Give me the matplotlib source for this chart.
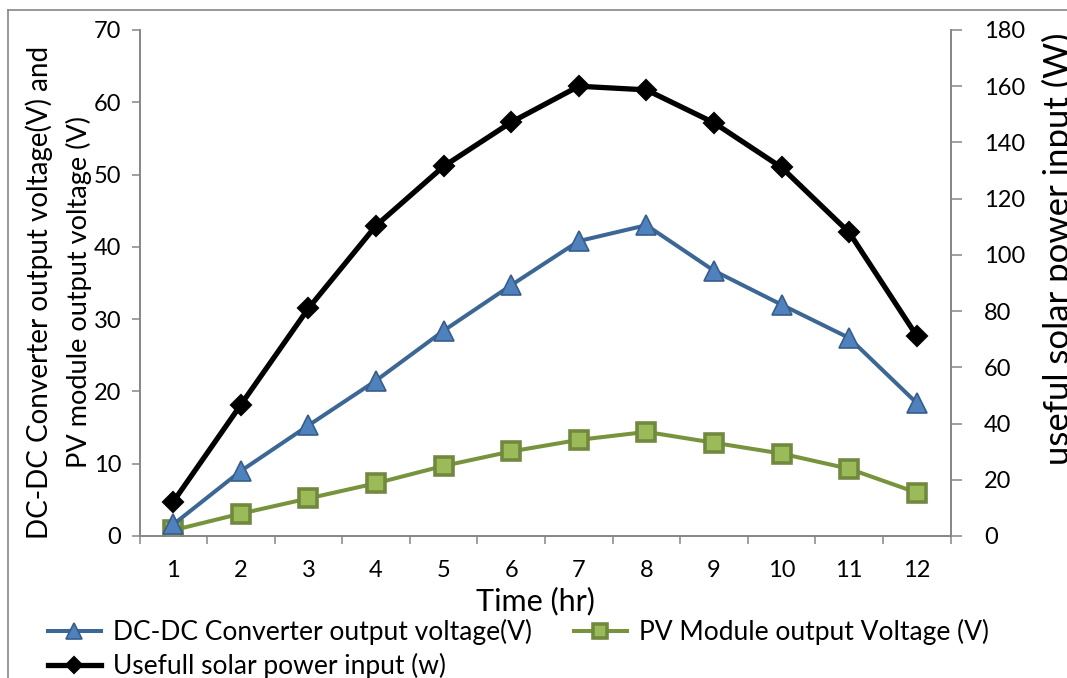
import matplotlib
matplotlib.use("Agg")
import numpy as np
import matplotlib.pyplot as plt
from matplotlib.lines import Line2D

# hourly readings
hours = [1, 2, 3, 4, 5, 6, 7, 8, 9, 10, 11, 12]
dcdc_volts = [1.6, 9.0, 15.3, 21.5, 28.4, 34.7, 40.8, 43.0, 36.7, 32.0, 27.4, 18.4]
pv_volts = [0.8, 3.1, 5.2, 7.3, 9.7, 11.7, 13.3, 14.4, 12.9, 11.4, 9.3, 6.0]
solar_power = [12.2, 46.7, 81.0, 110.4, 131.5, 147.2, 160.0, 158.7, 147.0, 131.1, 108.0, 71.2]

W, H = 1067, 678
FS = 17
GRAY = "#868686"

plt.rcParams["font.family"] = ["Lato", "DejaVu Sans"]
plt.rcParams["font.size"] = FS

fig = plt.figure(figsize=(W / 100, H / 100), dpi=100)
ax = fig.add_axes([139.5 / W, 1 - 536 / H, (950.5 - 139.5) / W, (536 - 30) / H])
ax2 = ax.twinx()

ax.plot(hours, pv_volts, color="#77933C", lw=2.9, marker="s", ms=13,
        mfc="#9BBB59", mec="#71893F", mew=2.6, label="PV Module output Voltage (V)", zorder=3)
ax.plot(hours, dcdc_volts, color="#3C6795", lw=2.9, marker="^", ms=15,
        mfc="#4F81BD", mec="#385D8A", mew=1.2, label="DC-DC Converter output voltage(V)", zorder=4)
ax2.plot(hours, solar_power, color="black", lw=3.8, marker="D", ms=10.5,
         mfc="black", mec="black", mew=1.5, label="Usefull solar power input (w)")

ax.set_xlim(0.5, 12.5)
ax.set_ylim(0, 70)
ax2.set_ylim(0, 180)
ax.set_yticks(np.arange(0, 71, 10))
ax2.set_yticks(np.arange(0, 181, 20))

# category labels in the middle, tick marks on the boundaries
ax.set_xticks(hours)
ax.set_xticklabels([str(h) for h in hours])
ax.set_xticks(np.arange(0.5, 13, 1), minor=True)
ax.tick_params(axis="x", which="major", length=0, pad=17)
ax.tick_params(axis="x", which="minor", length=6, width=1.1, color=GRAY, direction="out")
ax.tick_params(axis="y", length=6, width=1.1, color=GRAY, direction="out", pad=7)
ax2.tick_params(axis="y", length=8, width=1.1, color=GRAY, direction="out", pad=16)

for a in (ax, ax2):
    for side, sp in a.spines.items():
        sp.set_color(GRAY)
        sp.set_linewidth(1.2)
    a.spines["top"].set_visible(False)

# axis titles
fig.text(39 / W, 1 - 292 / H, "DC-DC Converter output voltage(V) and",
         rotation=90, ha="center", va="center", fontsize=20)
fig.text(79 / W, 1 - 292 / H, "PV module output voltage (V)",
         rotation=90, ha="center", va="center", fontsize=19.5)
fig.text(1042 / W, 1 - 249 / H, "useful solar power input (W)",
         rotation=90, ha="left", va="center", fontsize=25)
fig.text(535 / W, 1 - 601 / H, "Time (hr)", ha="center", va="center", fontsize=22)

h1, l1 = ax.get_legend_handles_labels()
h2, l2 = ax2.get_legend_handles_labels()
handles = [h1[1], h2[0], h1[0]]
labels = [l1[1], l2[0], l1[0]]
fig.legend(handles, labels, ncol=2, loc="upper left", bbox_to_anchor=(48 / W, 1 - 619 / H),
           frameon=False, fontsize=19, handlelength=2.0, handletextpad=0.45,
           columnspacing=1.6, labelspacing=0.3, borderpad=0, borderaxespad=0,
           markerscale=0.8)

# chart area border
fig.add_artist(Line2D([8 / W, 8 / W], [0, 1 - 10 / H], transform=fig.transFigure,
                      color=GRAY, lw=1.2))
fig.add_artist(Line2D([8 / W, 1], [1 - 10 / H, 1 - 10 / H], transform=fig.transFigure,
                      color=GRAY, lw=1.2))

fig.savefig("out.png", dpi=100)
